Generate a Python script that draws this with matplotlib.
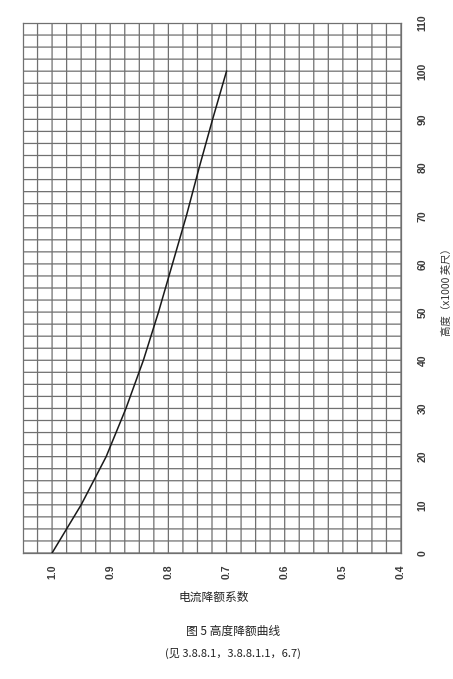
import matplotlib
matplotlib.use("Agg")
import matplotlib.pyplot as plt
import numpy as np

# Data
altitude = [0, 10, 20, 30, 40, 50, 60, 70, 80, 90, 100]          # x1000 ft
derating = [1.0, 0.950, 0.907, 0.873, 0.843, 0.817, 0.793, 0.769, 0.747, 0.724, 0.700]

x_ticks = [1.0, 0.9, 0.8, 0.7, 0.6, 0.5, 0.4]
x_tick_labels = ["1.0", "0.9", "0.8", "0.7", "0.6", "0.5", "0.4"]
y_ticks = [0, 10, 20, 30, 40, 50, 60, 70, 80, 90, 100, 110]

xlabel = "电流降额系数"
ylabel = "高度（x1000 英尺）"
title1 = "图 5 高度降额曲线"
title2 = "(见 3.8.8.1，3.8.8.1.1，6.7)"

plt.rcParams['font.family'] = ['Noto Sans CJK SC', 'DejaVu Sans']

fig = plt.figure(figsize=(4.53, 6.79), dpi=100)
ax = fig.add_axes([23/453, 1-553/679, (401-23)/453, (553-23)/679])

ax.set_xlim(1.05, 0.4)
ax.set_ylim(0, 110)

grid_c = "#707070"
xg = [0.4 + 0.025 * i for i in range(27)]
yg = [2.5 * i for i in range(45)]
for v in xg:
    ax.axvline(v, color=grid_c, lw=0.9, zorder=1, snap=False)
for v in yg:
    ax.axhline(v, color=grid_c, lw=0.9, zorder=1, snap=False)

ax.plot(derating, altitude, color="#1a1a1a", lw=1.1, zorder=3)

ax.set_xticks(x_ticks)
ax.set_xticklabels(x_tick_labels, rotation=90, fontsize=7.5, family=['Liberation Sans'],
                   fontweight="bold", color="#3a3a3a")
ax.yaxis.tick_right()
ax.set_yticks(y_ticks)
ax.set_yticklabels([str(v) for v in y_ticks], rotation=90, fontsize=7.5,
                   family=['Liberation Sans'], fontweight="bold", color="#3a3a3a", va="center")
ax.tick_params(axis="both", which="both", length=0)
ax.tick_params(axis="x", pad=8)
ax.tick_params(axis="y", pad=12)

for s in ax.spines.values():
    s.set_color(grid_c)
    s.set_linewidth(0.9)

fig.text(214/453, 1-597/679, xlabel, ha="center", va="center", fontsize=8.5, color="#222222")
fig.text(447/453, 1-290/679, ylabel, ha="center", va="center", rotation=90,
         fontsize=7.5, color="#333333")
fig.text(233/453, 1-631/679, title1, ha="center", va="center", fontsize=8.5, color="#222222")
fig.text(233/453, 1-653/679, title2, ha="center", va="center", fontsize=8, color="#222222")

fig.savefig("out.png", dpi=100)
